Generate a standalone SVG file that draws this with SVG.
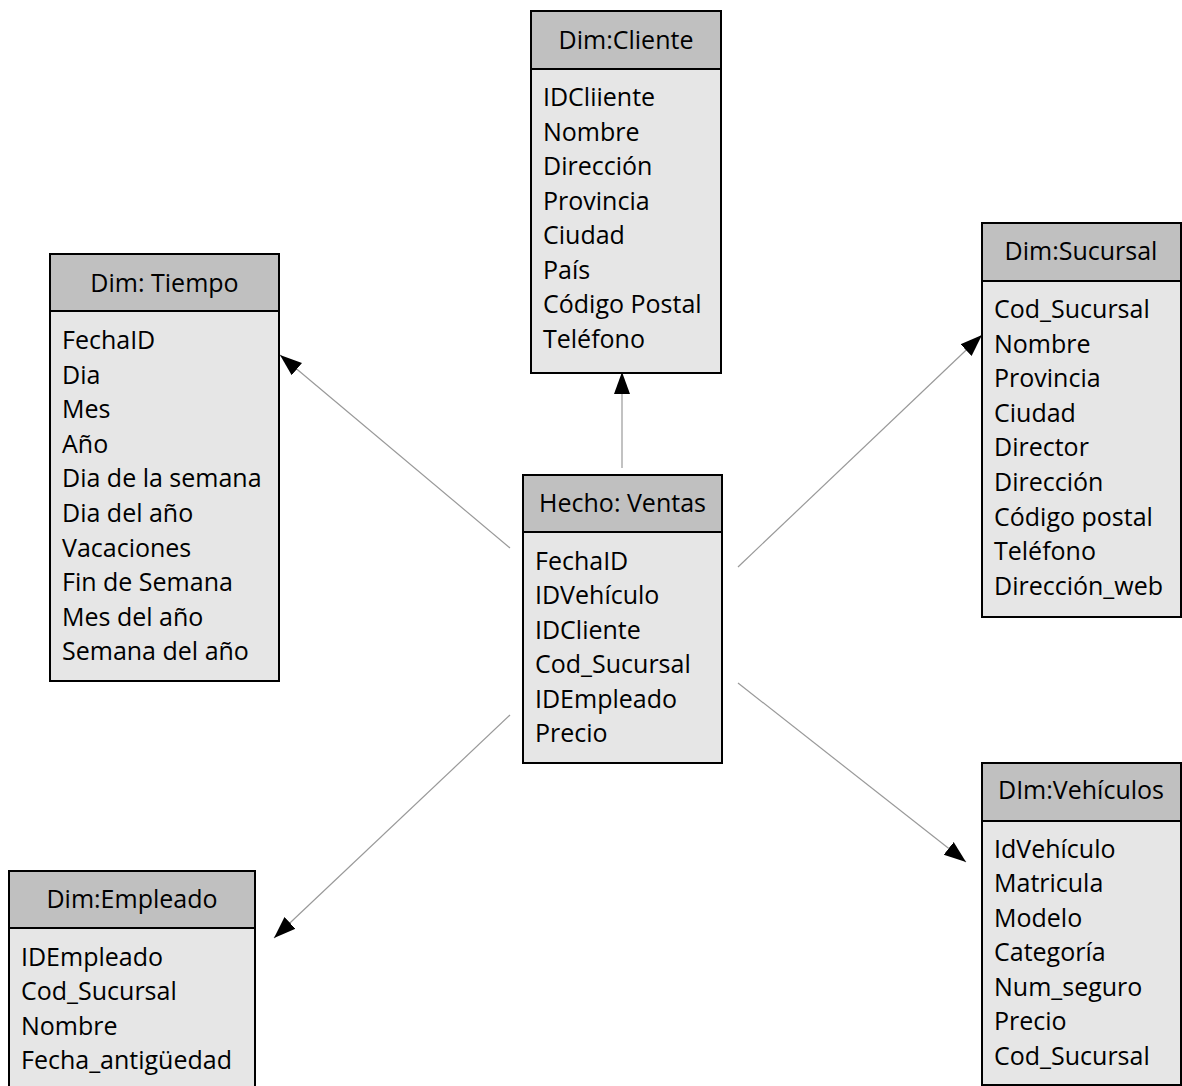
<svg xmlns="http://www.w3.org/2000/svg" width="1182" height="1086" viewBox="0 0 1182 1086">
<style>
.hdr{fill:#c0c0c0;stroke:#000;stroke-width:2}
.body{fill:#e6e6e6;stroke:#000;stroke-width:2}
text{font-family:"Open Sans","Noto Sans","Liberation Sans",sans-serif;font-size:25px;fill:#000}
.ht{text-anchor:middle}
.conn line{stroke:#999;stroke-width:1.2;marker-end:url(#ah)}
</style>
<defs>
<marker id="ah" markerUnits="userSpaceOnUse" markerWidth="24" markerHeight="18" refX="22" refY="8" orient="auto" viewBox="0 0 24 16">
<path d="M0,0 L22,8 L0,16 Z" fill="#000"/>
</marker>
</defs>
<rect width="1182" height="1086" fill="#fff"/>
<g class="conn" id="connectors">
<line x1="622" y1="468" x2="622" y2="372"/>
<line x1="510" y1="548" x2="280" y2="355"/>
<line x1="738" y1="567" x2="982" y2="335"/>
<line x1="510" y1="715" x2="274" y2="938"/>
<line x1="738" y1="683" x2="966" y2="862"/>
</g>
<g id="cliente">
<rect class="body" x="531" y="69" width="190" height="304"/>
<rect class="hdr" x="531" y="11" width="190" height="58"/>
<text class="ht" x="626" y="49">Dim:Cliente</text>
<text x="543" y="106">IDCliiente</text>
<text x="543" y="141">Nombre</text>
<text x="543" y="175">Dirección</text>
<text x="543" y="210">Provincia</text>
<text x="543" y="244">Ciudad</text>
<text x="543" y="279">País</text>
<text x="543" y="313">Código Postal</text>
<text x="543" y="348">Teléfono</text>
</g>
<g id="tiempo">
<rect class="body" x="50" y="311" width="229" height="370"/>
<rect class="hdr" x="50" y="254" width="229" height="57"/>
<text class="ht" x="164.5" y="292">Dim: Tiempo</text>
<text x="62" y="349">FechaID</text>
<text x="62" y="384">Dia</text>
<text x="62" y="418">Mes</text>
<text x="62" y="453">Año</text>
<text x="62" y="487">Dia de la semana</text>
<text x="62" y="522">Dia del año</text>
<text x="62" y="557">Vacaciones</text>
<text x="62" y="591">Fin de Semana</text>
<text x="62" y="626">Mes del año</text>
<text x="62" y="660">Semana del año</text>
</g>
<g id="sucursal">
<rect class="body" x="982" y="281" width="199" height="336"/>
<rect class="hdr" x="982" y="223" width="199" height="58"/>
<text class="ht" x="1081" y="260">Dim:Sucursal</text>
<text x="994" y="318">Cod_Sucursal</text>
<text x="994" y="353">Nombre</text>
<text x="994" y="387">Provincia</text>
<text x="994" y="422">Ciudad</text>
<text x="994" y="456">Director</text>
<text x="994" y="491">Dirección</text>
<text x="994" y="526">Código postal</text>
<text x="994" y="560">Teléfono</text>
<text x="994" y="595">Dirección_web</text>
</g>
<g id="ventas">
<rect class="body" x="523" y="532" width="199" height="231"/>
<rect class="hdr" x="523" y="475" width="199" height="57"/>
<text class="ht" x="622.5" y="512">Hecho: Ventas</text>
<text x="535" y="570">FechaID</text>
<text x="535" y="604">IDVehículo</text>
<text x="535" y="639">IDCliente</text>
<text x="535" y="673">Cod_Sucursal</text>
<text x="535" y="708">IDEmpleado</text>
<text x="535" y="742">Precio</text>
</g>
<g id="empleado">
<rect class="body" x="9" y="928" width="246" height="170"/>
<rect class="hdr" x="9" y="871" width="246" height="57"/>
<text class="ht" x="132" y="908">Dim:Empleado</text>
<text x="21" y="966">IDEmpleado</text>
<text x="21" y="1000">Cod_Sucursal</text>
<text x="21" y="1035">Nombre</text>
<text x="21" y="1069">Fecha_antigüedad</text>
</g>
<g id="vehiculos">
<rect class="body" x="982" y="821" width="199" height="264"/>
<rect class="hdr" x="982" y="763" width="199" height="58"/>
<text class="ht" x="1081" y="799">DIm:Vehículos</text>
<text x="994" y="858">IdVehículo</text>
<text x="994" y="892">Matricula</text>
<text x="994" y="927">Modelo</text>
<text x="994" y="961">Categoría</text>
<text x="994" y="996">Num_seguro</text>
<text x="994" y="1030">Precio</text>
<text x="994" y="1065">Cod_Sucursal</text>
</g>
</svg>
